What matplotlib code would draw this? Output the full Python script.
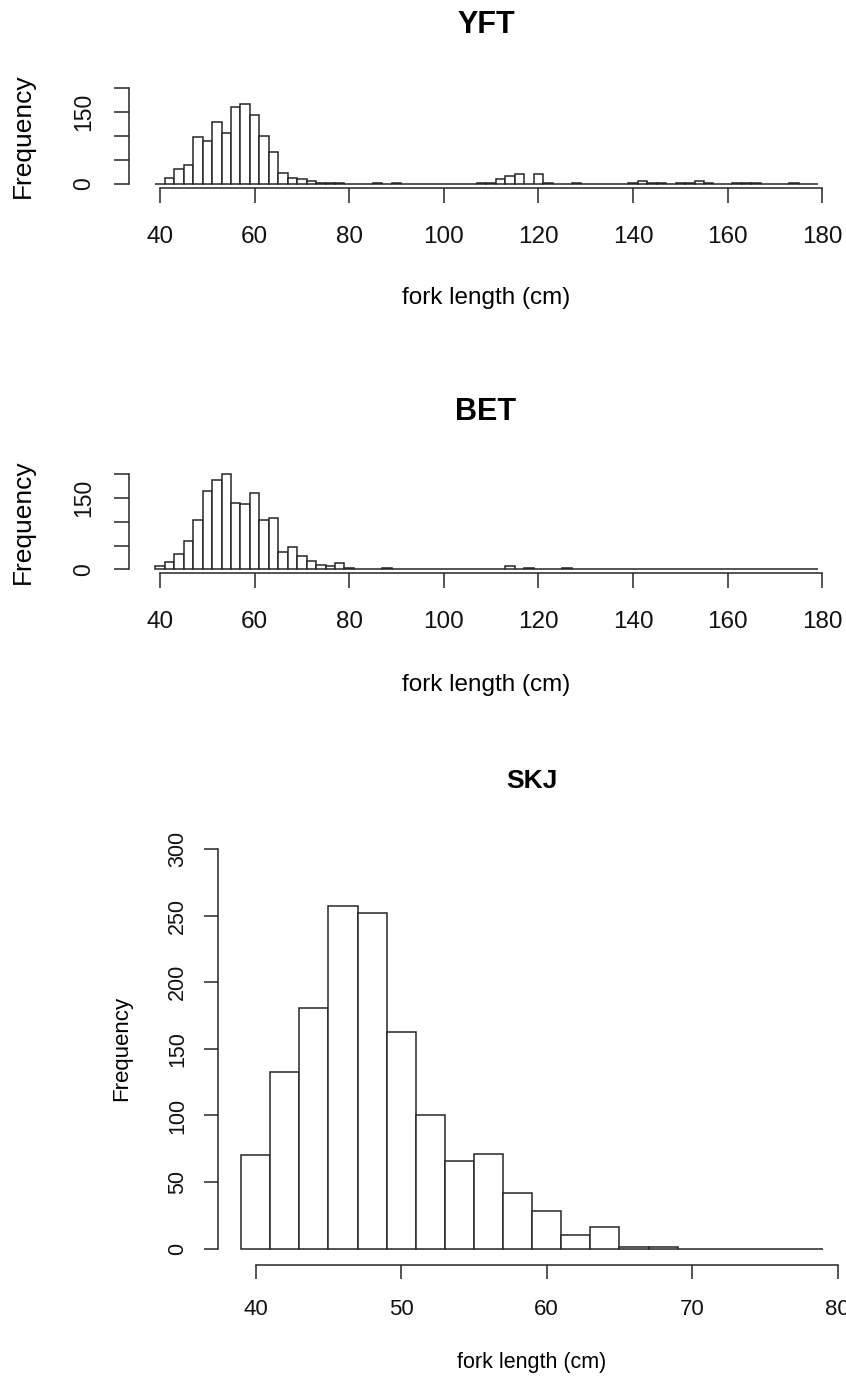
import numpy as np
import matplotlib
matplotlib.use("Agg")
import matplotlib.pyplot as plt

plt.rcParams['font.family'] = ['Liberation Sans', 'DejaVu Sans']

# ---------------- data ----------------
titles = ["YFT", "BET", "SKJ"]
xlabel_text = "fork length (cm)"
ylabel_text = "Frequency"

# bin edges (2 cm bins)
yft_bin_start, yft_bin_end = 39, 179
bet_bin_start, bet_bin_end = 39, 179
skj_bin_start, skj_bin_end = 39, 79

yft_counts = [0, 13, 31, 40, 97, 90, 128, 107, 160, 167,     # 39-59
              144, 100, 67, 23, 13, 10, 7, 3, 3, 2,          # 59-79
              0, 0, 0, 2, 0, 2, 0, 0, 0, 0,                  # 79-99
              0, 0, 0, 0, 2, 2, 10, 17, 21, 0,               # 99-119
              21, 2, 0, 0, 2, 0, 0, 0, 0, 0,                 # 119-139
              2, 7, 2, 2, 0, 2, 2, 7, 2, 0,                  # 139-159
              0, 2, 2, 2, 0, 0, 0, 2, 0, 0]                  # 159-179

bet_counts = [8, 16, 33, 60, 104, 164, 188, 201, 140, 137,   # 39-59
              160, 104, 108, 37, 47, 28, 17, 10, 7, 13,      # 59-79
              3, 0, 0, 0, 2, 0, 0, 0, 0, 0,                  # 79-99
              0, 0, 0, 0, 0, 0, 0, 6, 0, 2,                  # 99-119
              0, 0, 0, 2, 0, 0, 0, 0, 0, 0,                  # 119-139
              0, 0, 0, 0, 0, 0, 0, 0, 0, 0,                  # 139-159
              0, 0, 0, 0, 0, 0, 0, 0, 0, 0]                  # 159-179

skj_counts = [70, 133, 181, 257, 252, 163, 100, 66, 71, 42,
              28, 10, 16, 1, 1, 0, 0, 0, 0, 0]

yft_xticks = [40, 60, 80, 100, 120, 140, 160, 180]
bet_xticks = [40, 60, 80, 100, 120, 140, 160, 180]
skj_xticks = [40, 50, 60, 70, 80]
small_yticks = [0, 50, 100, 150, 200]
small_yticklabels = ["0", "", "", "150", ""]
skj_yticks = [0, 50, 100, 150, 200, 250, 300]

# ---------------- layout (pixels) ----------------
W, H = 846, 1378
DPI = 100
fig = plt.figure(figsize=(W / DPI, H / DPI), dpi=DPI)
fig.patch.set_facecolor("white")

LC = "#262626"


def add_ax(left, right, top, bottom):
    return fig.add_axes([left / W, 1 - bottom / H, (right - left) / W, (bottom - top) / H])


def draw_hist(ax, start, end, counts, xlim, ylim, xticks, yticks, yticklabels,
              tick_len, xpad, ypad, fs_xtick, fs_ytick, ybound):
    edges = np.arange(start, end + 1, 2)
    ax.bar(edges[:-1], counts, width=np.diff(edges), align="edge",
           facecolor="white", edgecolor=LC, linewidth=1.1)
    ax.set_xlim(*xlim)
    ax.set_ylim(*ylim)
    for s in ["top", "right"]:
        ax.spines[s].set_visible(False)
    for s in ["left", "bottom"]:
        ax.spines[s].set_color(LC)
        ax.spines[s].set_linewidth(1.1)
    ax.spines["bottom"].set_bounds(xticks[0], xticks[-1])
    ax.spines["left"].set_bounds(ybound[0], ybound[1])
    ax.set_xticks(xticks)
    ax.set_xticklabels([str(t) for t in xticks])
    ax.set_yticks(yticks)
    ax.set_yticklabels(yticklabels, rotation=90, va="center")
    ax.tick_params(axis="both", direction="out", length=tick_len, width=1.1,
                   color=LC, labelcolor="#111111")
    ax.tick_params(axis="x", pad=xpad, labelsize=fs_xtick)
    ax.tick_params(axis="y", pad=ypad, labelsize=fs_ytick)
    ax.patch.set_alpha(0)


# YFT
ax1 = add_ax(128.8, 844, 84, 187.8)
draw_hist(ax1, yft_bin_start, yft_bin_end, yft_counts, (33.4, 184.6), (-8, 208),
          yft_xticks, small_yticks, small_yticklabels, 11, 16.5, 13, 17.5, 16.5, (0, 200))
# BET
ax2 = add_ax(128.8, 844, 470.5, 573.1)
draw_hist(ax2, bet_bin_start, bet_bin_end, bet_counts, (33.4, 184.6), (-8, 208),
          bet_xticks, small_yticks, small_yticklabels, 11, 16.5, 13, 17.5, 16.5, (0, 200))
# SKJ
ax3 = add_ax(217.9, 846.4, 833, 1264.7)
draw_hist(ax3, skj_bin_start, skj_bin_end, skj_counts, (37.4, 80.6), (-12, 312),
          skj_xticks, skj_yticks, [str(t) for t in skj_yticks], 10, 14.5, 11.5, 16, 15.5, (0, 300))


def ftext(x, y, s, **kw):
    fig.text(x / W, 1 - y / H, s, **kw)


# titles
ftext(486, 33, titles[0], ha="center", va="baseline", fontsize=22, fontweight="bold")
ftext(486, 420, titles[1], ha="center", va="baseline", fontsize=22, fontweight="bold")
ftext(532, 788, titles[2], ha="center", va="baseline", fontsize=19, fontweight="bold")

# x labels
ftext(486, 304, xlabel_text, ha="center", va="baseline", fontsize=17.5)
ftext(486, 691, xlabel_text, ha="center", va="baseline", fontsize=17.5)
ftext(532, 1368, xlabel_text, ha="center", va="baseline", fontsize=15.5)

# y labels
ftext(23, 136, ylabel_text, ha="center", va="center", rotation=90, fontsize=19)
ftext(23, 522, ylabel_text, ha="center", va="center", rotation=90, fontsize=19)
ftext(122, 1048, ylabel_text, ha="center", va="center", rotation=90, fontsize=16)

fig.savefig("out.png", dpi=DPI, facecolor="white")
